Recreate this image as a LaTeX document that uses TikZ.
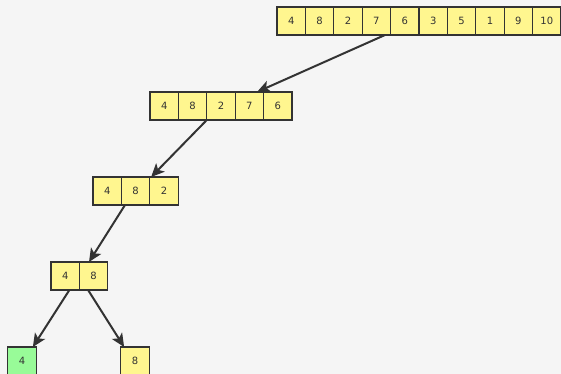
\documentclass[tikz,border=0pt]{standalone}
\usepackage{fontspec}
\setmainfont{DejaVu Sans}
\usetikzlibrary{arrows.meta}
\definecolor{cellyellow}{HTML}{FFF68F}
\definecolor{cellgreen}{HTML}{98FB98}
\definecolor{inkgray}{HTML}{333333}
\definecolor{pagegray}{HTML}{F5F5F5}

\begin{document}
\begin{tikzpicture}[x=0.75pt,y=-0.75pt,
    cell/.style={draw=inkgray,line width=0.9pt,fill=cellyellow,text=inkgray,
      minimum width=21.3pt,minimum height=21pt,inner sep=0pt,outer sep=0pt,
      font=\fontsize{7.5}{9}\selectfont},
    done/.style={cell,fill=cellgreen},
    split/.style={-{Stealth[length=10pt,width=9pt,inset=2.5pt]},line width=1.5pt,draw=inkgray}]
  \useasboundingbox (0,0) rectangle (561,374);
  \fill[pagegray] (0,0) rectangle (561,374);
  \clip (0,0) rectangle (561,374);
  % one row of cells per level
  \foreach \v [count=\i] in {4,8,2,7,6,3,5,1,9,10}
    \node[cell] (a\i) at (262.8+28.4*\i,21) {\v};
  \foreach \v [count=\i] in {4,8,2,7,6}
    \node[cell] (b\i) at (135.8+28.4*\i,106) {\v};
  \foreach \v [count=\i] in {4,8,2}
    \node[cell] (c\i) at (78.8+28.4*\i,191) {\v};
  \foreach \v [count=\i] in {4,8}
    \node[cell] (d\i) at (36.8+28.4*\i,276) {\v};
  \node[done] (e1) at (22,361) {4};
  \node[cell] (f1) at (135,361) {8};
  % splits
  \draw[split] ([xshift=-4.2pt]a4.south east) -- ([xshift=5.7pt]b4.north);
  \draw[split] (b3.south west) -- ([xshift=1pt]c3.north west);
  \draw[split] ([xshift=2.7pt]c2.south west) -- ([xshift=7.2pt]d2.north west);
  \draw[split] ([xshift=-7.5pt]d1.south east) -- ([xshift=-2.5pt]e1.north east);
  \draw[split] ([xshift=6.5pt]d2.south west) -- ([xshift=2.5pt]f1.north west);
\end{tikzpicture}
\end{document}
